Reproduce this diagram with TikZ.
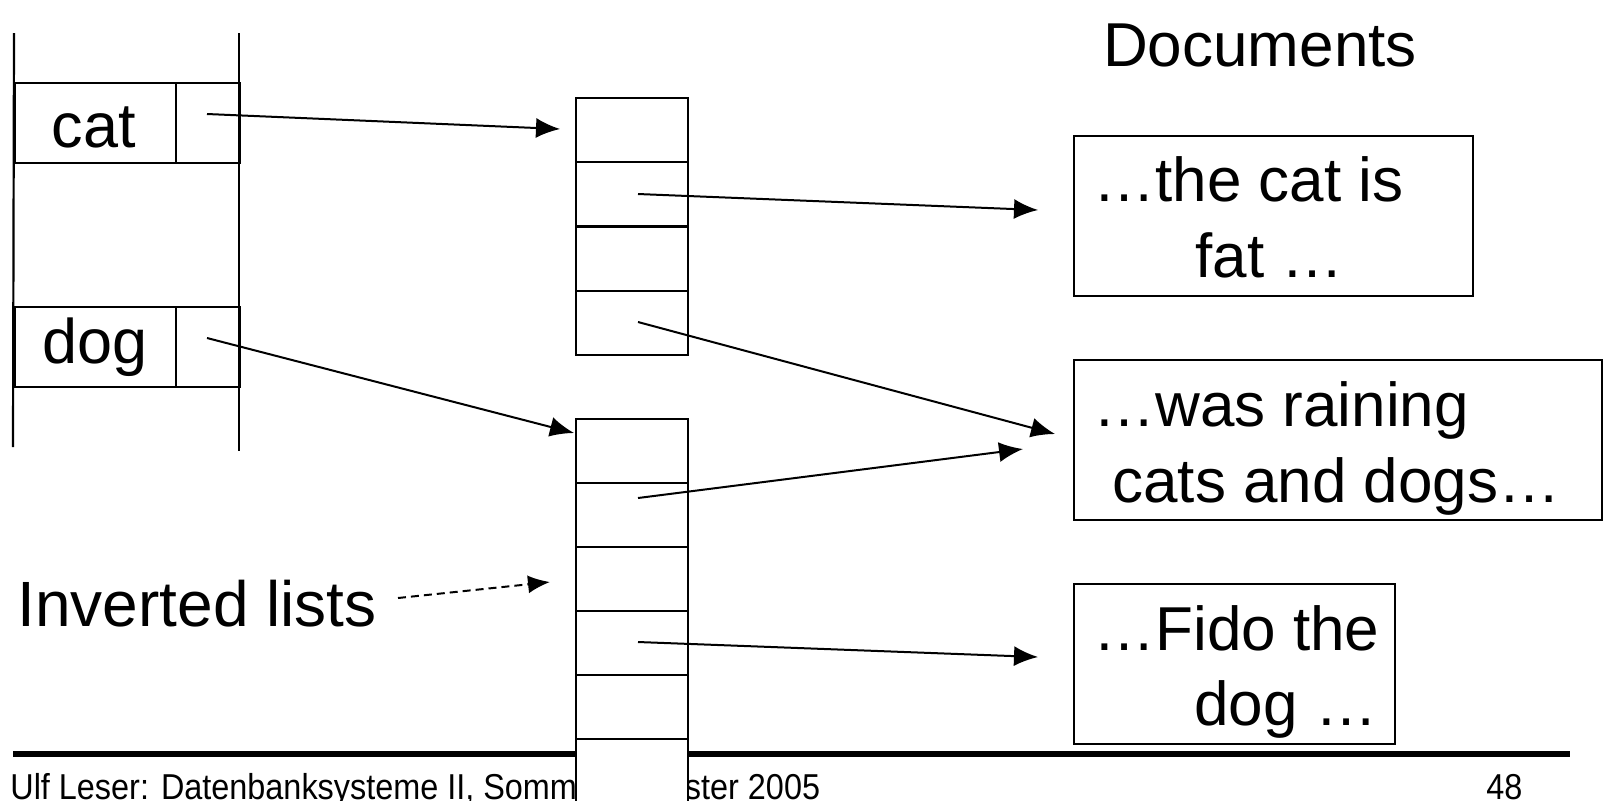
\documentclass[tikz,border=0pt]{standalone}
\usepackage{fontspec}
\setmainfont{Liberation Sans}
\newfontfamily\footfont[FakeStretch=0.9]{Liberation Sans}
\usetikzlibrary{arrows.meta}
\begin{document}
\begin{tikzpicture}[x=0.5pt,y=-0.5pt,
  conn/.style={line width=1pt,-{Latex[length=12pt,width=10pt]}},
  dconn/.style={line width=1pt,dash pattern=on 4pt off 2.5pt,-{Latex[length=11pt,width=9pt]}},
  boxline/.style={line width=1.1pt},
  doctext/.style={font=\fontsize{31pt}{36pt}\selectfont, anchor=base west, inner sep=0pt},
  lbl/.style={font=\fontsize{31.5pt}{36pt}\selectfont, anchor=base, inner sep=0pt},
  docbox/.style={draw, line width=1pt, inner sep=0pt, anchor=north west, minimum height=80pt},
  cellbox/.style={draw, line width=1.1pt, fill=white, inner sep=0pt, anchor=north west, minimum width=56pt, minimum height=32pt},
  keybox/.style={draw, line width=1.1pt, inner sep=0pt, anchor=north west, minimum height=40pt},
  foot/.style={font=\footfont\fontsize{18pt}{20pt}\selectfont, anchor=base west, inner sep=0pt}]
\useasboundingbox (0,0) rectangle (1604,800);

% bottom rule and footer
\draw[line width=3pt] (13,754) -- (1570,754);
\node[foot] (footer) at (10,799) {Ulf Leser: Datenbanksysteme II, Sommersemester 2005};
\node[foot] (pageno) at (1486,799) {48};

% left table (dictionary)
\draw[boxline] (14,33) -- (13,447);
\draw[boxline] (239,33) -- (239,451);
\node[keybox, minimum width=80.5pt] (catkey) at (14,82) {};
\node[keybox, minimum width=32pt] (catptr) at (175,82) {};
\node[keybox, minimum width=80.5pt] (dogkey) at (14,306) {};
\node[keybox, minimum width=32pt] (dogptr) at (175,306) {};
\node[lbl] (catlbl) at (94,147) {cat};
\node[lbl] (doglbl) at (95,363) {dog};

% inverted list 1
\foreach \i in {0,1,2,3} {
  \node[cellbox] (la\i) at (575,{97+64.25*\i}) {};
}
% inverted list 2
\foreach \i in {0,1,2,3,4,5} {
  \node[cellbox] (lb\i) at (575,{418+64*\i}) {};
}

% labels
\node[font=\fontsize{31pt}{36pt}\selectfont, anchor=base, inner sep=0pt] (docs) at (1260,66) {Documents};
\node[font=\fontsize{32pt}{36pt}\selectfont, anchor=base west, inner sep=0pt] (invl) at (17,626) {Inverted lists};

% documents
\node[docbox, minimum width=199.5pt] (doc1) at (1073,135) {};
\node[docbox, minimum width=264pt] (doc2) at (1073,359) {};
\node[docbox, minimum width=160.5pt] (doc3) at (1073,583) {};
\node[doctext] (d1a) at (1093,201) {\dots the cat is};
\node[doctext] (d1b) at (1195,277) {fat \dots};
\node[doctext] (d2a) at (1093,426) {\dots was raining};
\node[doctext] (d2b) at (1112,502) {cats and dogs\dots};
\node[doctext] (d3a) at (1093,650) {\dots Fido the};
\node[doctext] (d3b) at (1194,725) {dog \dots};

% connector endpoints
\coordinate (catp) at (207,114);
\coordinate (dogp) at (207,338);
\coordinate (la1p) at (638,194);
\coordinate (la3p) at (638,322);
\coordinate (lb1p) at (638,498);
\coordinate (lb3p) at (638,642);
\coordinate (toLa) at (560,129);
\coordinate (toLb) at (574,433);
\coordinate (toD1) at (1038,210);
\coordinate (toD2a) at (1055,434);
\coordinate (toD2b) at (1023,449);
\coordinate (toD3) at (1038,657);
\coordinate (invs) at (398,598);
\coordinate (inve) at (550,582);

\draw[conn] (catp) -- (toLa);
\draw[conn] (dogp) -- (toLb);
\draw[conn] (la1p) -- (toD1);
\draw[conn] (la3p) -- (toD2a);
\draw[conn] (lb1p) -- (toD2b);
\draw[conn] (lb3p) -- (toD3);
\draw[dconn] (invs) -- (inve);
\end{tikzpicture}
\end{document}
